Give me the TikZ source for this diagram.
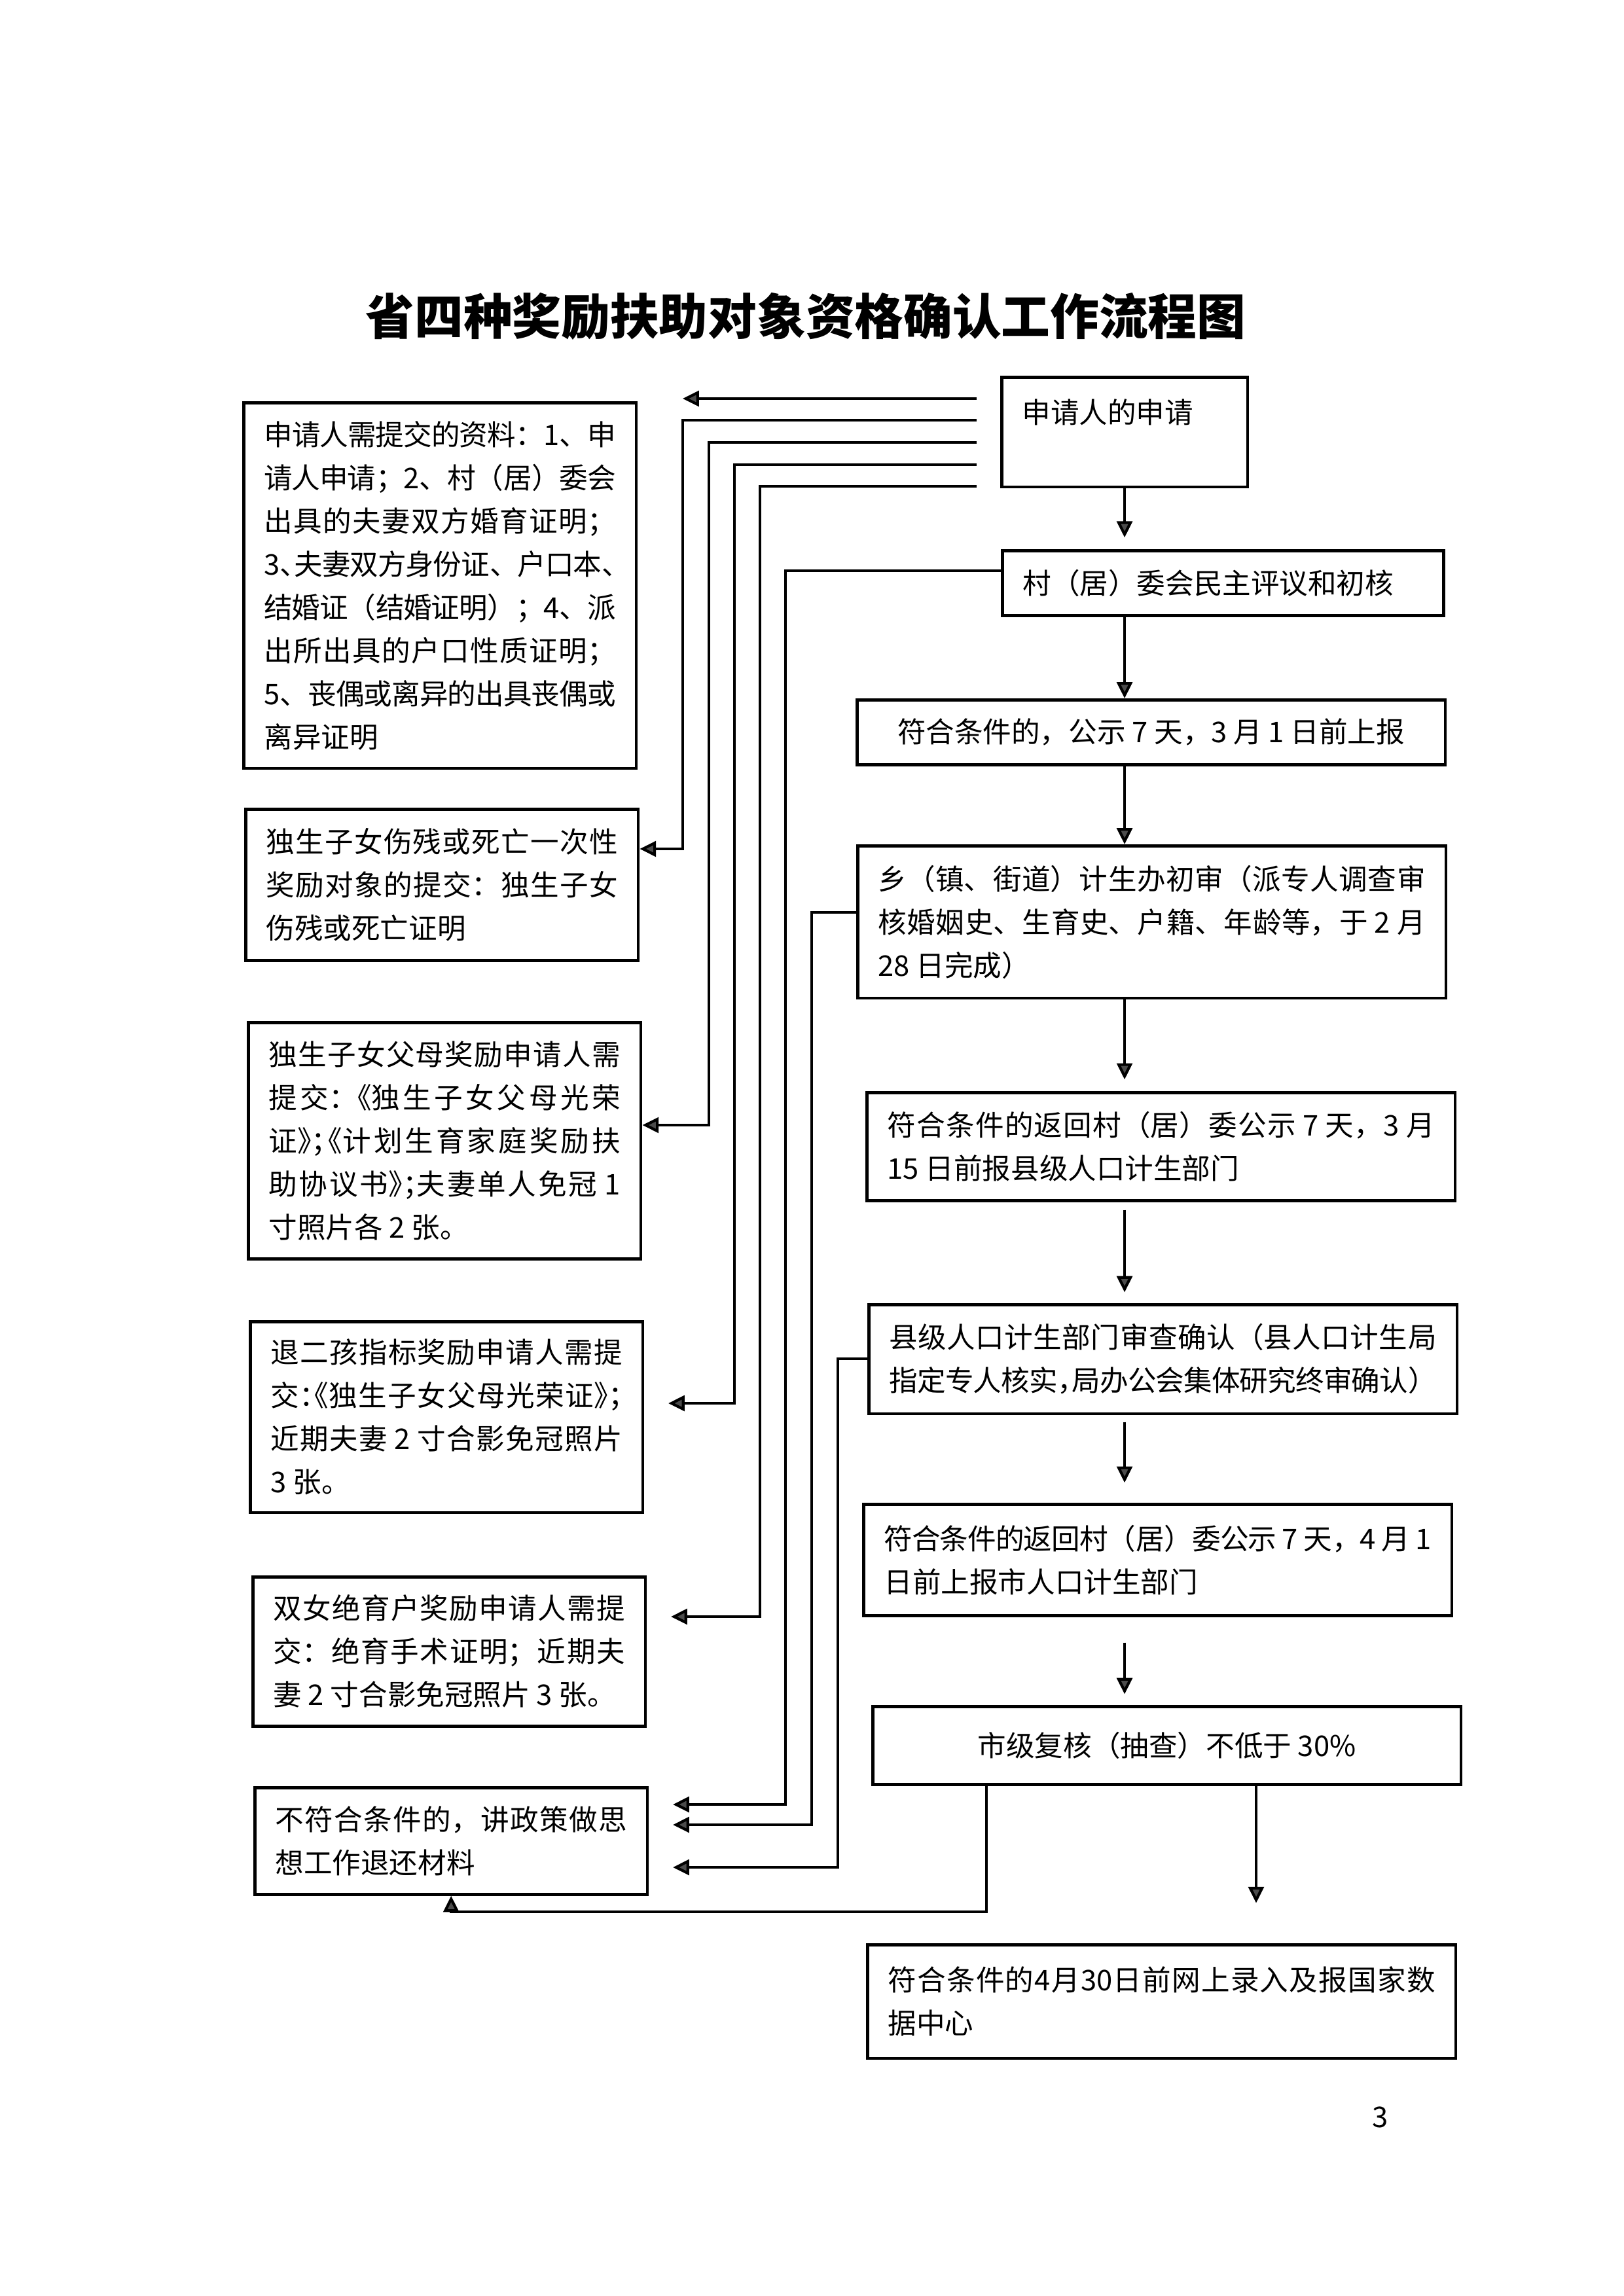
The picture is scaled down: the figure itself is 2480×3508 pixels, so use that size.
\documentclass[tikz,border=0pt]{standalone}
\usepackage{fontspec}
\setmainfont{Noto Sans CJK SC}
\usetikzlibrary{positioning,calc,arrows.meta}
\XeTeXlinebreaklocale "zh"
\XeTeXlinebreakskip=0pt plus 2pt minus 0.6pt
\setlength{\parindent}{0pt}
\newcommand{\bodysize}{\fontsize{10.5pt}{15.9pt}\selectfont}
\newcommand{\halfp}[1]{{\addfontfeature{RawFeature=+halt}#1}}

\begin{document}
\begin{tikzpicture}[x=0.08468mm, y=-0.08468mm,
	lbox/.style={draw, line width=1.1pt, rectangle, anchor=north west, inner xsep=2.6mm, inner ysep=0.8mm, minimum width=50.8mm, text width=45.5mm, align=justify, font=\bodysize},
	rbox/.style={lbox, minimum width=76.1mm, text width=70.8mm},
	flow/.style={line width=1pt, -{Triangle[length=2.1mm, width=2mm, fill=black!70]}},
	gap/.style={shorten >=3.1mm}]
	\useasboundingbox (0,0) rectangle (2480,3508);
	\node (title) at (1231,483) {\fontsize{18pt}{18pt}\selectfont\bfseries 省四种奖励扶助对象资格确认工作流程图};
	% left column
	\node [lbox, minimum height=47.3mm] (docs) at (370,613) {申请人需提交的资料：1、申\linebreak 请人申请；2、村（居）委会\linebreak 出具的夫妻双方婚育证明；\linebreak 3\halfp{、}夫妻双方身份证、户口本\halfp{、}\linebreak 结婚证（结婚证明）；4、派\linebreak 出所出具的户口性质证明；\linebreak 5、丧偶或离异的出具丧偶或\linebreak 离异证明};
	\node [lbox, minimum height=19.6mm] (disabled) at (373,1234) {独生子女伤残或死亡一次性\linebreak 奖励对象的提交：独生子女\linebreak 伤残或死亡证明};
	\node [lbox, minimum height=30.6mm] (parents) at (377,1560) {独生子女父母奖励申请人需\linebreak 提交\halfp{：}《独生子女父母光荣\linebreak 证\halfp{》；《}计划生育家庭奖励扶\linebreak 助协议书\halfp{》；}夫妻单人免冠 1\linebreak 寸照片各 2 张。};
	\node [lbox, minimum height=24.7mm] (quota) at (380,2017) {退二孩指标奖励申请人需提\linebreak 交\halfp{：《}独生子女父母光荣证\halfp{》；}\linebreak 近期夫妻 2 寸合影免冠照片\linebreak 3 张。};
	\node [lbox, minimum height=19.3mm] (girls) at (384,2407) {双女绝育户奖励申请人需提\linebreak 交：绝育手术证明；近期夫\linebreak 妻 2 寸合影免冠照片 3 张。};
	\node [lbox, minimum height=13.8mm] (reject) at (387,2729) {不符合条件的，讲政策做思\linebreak 想工作退还材料};
	% right column
	\node [lbox, minimum width=31.8mm, text width=26.5mm, minimum height=14.2mm, text depth=5.4mm] (apply) at (1528,574) {申请人的申请};
	\node [lbox, minimum width=57.1mm, text width=51.8mm, minimum height=8.4mm] (review) at (1529,839) {村（居）委会民主评议和初核};
	\node [rbox, minimum height=8.4mm, align=flush center] (notice) at (1307,1067) {符合条件的，公示 7 天，3 月 1 日前上报};
	\node [rbox, minimum height=19.7mm] (town) at (1308,1290) {乡（镇、街道）计生办初审（派专人调查审\linebreak 核婚姻史、生育史、户籍、年龄等，于 2 月\linebreak 28 日完成）};
	\node [rbox, minimum height=14mm] (back) at (1322,1667) {符合条件的返回村（居）委公示 7 天，3 月\linebreak 15 日前报县级人口计生部门};
	\node [rbox, minimum height=14.1mm] (county) at (1325,1991) {县级人口计生部门审查确认（县人口计生局\linebreak 指定专人核实\halfp{，}局办公会集体研究终审确认）};
	\node [rbox, minimum height=14.4mm] (report) at (1317,2296) {符合条件的返回村（居）委公示 7 天，4 月 1\linebreak 日前上报市人口计生部门};
	\node [rbox, minimum height=10.1mm, align=flush center] (city) at (1331,2605) {市级复核（抽查）不低于 30\%};
	\node [rbox, minimum height=14.7mm] (upload) at (1323,2969) {符合条件的4月30日前网上录入及报国家数\linebreak 据中心};
	\node (pagenum) at (2109,3235) {\bodysize 3};
	% main flow
	\draw [flow, shorten >=1.5mm] (apply.south) -- (apply.south |- review.north);
	\draw [flow] (apply.south |- review.south) -- (apply.south |- notice.north);
	\draw [flow] (apply.south |- notice.south) -- (apply.south |- town.north);
	\draw [flow, shorten >=1.5mm] (apply.south |- town.south) -- (apply.south |- back.north);
	\draw [flow, shorten <=1mm, shorten >=1.4mm] (apply.south |- back.south) -- (apply.south |- county.north);
	\draw [flow, shorten <=0.9mm, shorten >=2.6mm] (apply.south |- county.south) -- (apply.south |- report.north);
	\draw [flow, shorten <=3.3mm, shorten >=1.4mm] (apply.south |- report.south) -- (apply.south |- city.north);
	\draw [flow, shorten >=5.2mm] (city.south -| 1919,0) -- (upload.north -| 1919,0);
	% materials for each kind
	\coordinate (loose) at (1043,609);
	\draw [flow] ($(apply.north west)+(-36,35)$) -- (loose);
	\draw [flow] ($(apply.north west)+(-36,68)$) -| (1043,1297) -- (disabled.east |- 0,1297);
	\draw [flow] ($(apply.north west)+(-36,102)$) -| (1083,1719) -- (parents.east |- 0,1719);
	\draw [flow, gap] ($(apply.north west)+(-36,136)$) -| (1122,2144) -- (quota.east |- 0,2144);
	\draw [flow, gap] ($(apply.north west)+(-36,169)$) -| (1161,2470) -- (girls.east |- 0,2470);
	% returned
	\draw [flow, gap] (review.west |- 0,872) -| (1200,2757) -- (reject.east |- 0,2757);
	\draw [flow, gap] (town.west |- 0,1394) -| (1240,2788) -- (reject.east |- 0,2788);
	\draw [flow, gap] (county.west |- 0,2076) -| (1280,2853) -- (reject.east |- 0,2853);
	\draw [flow] (city.south -| 1507,0) -- ++(0,192) -| (reject.south);
\end{tikzpicture}
\end{document}
